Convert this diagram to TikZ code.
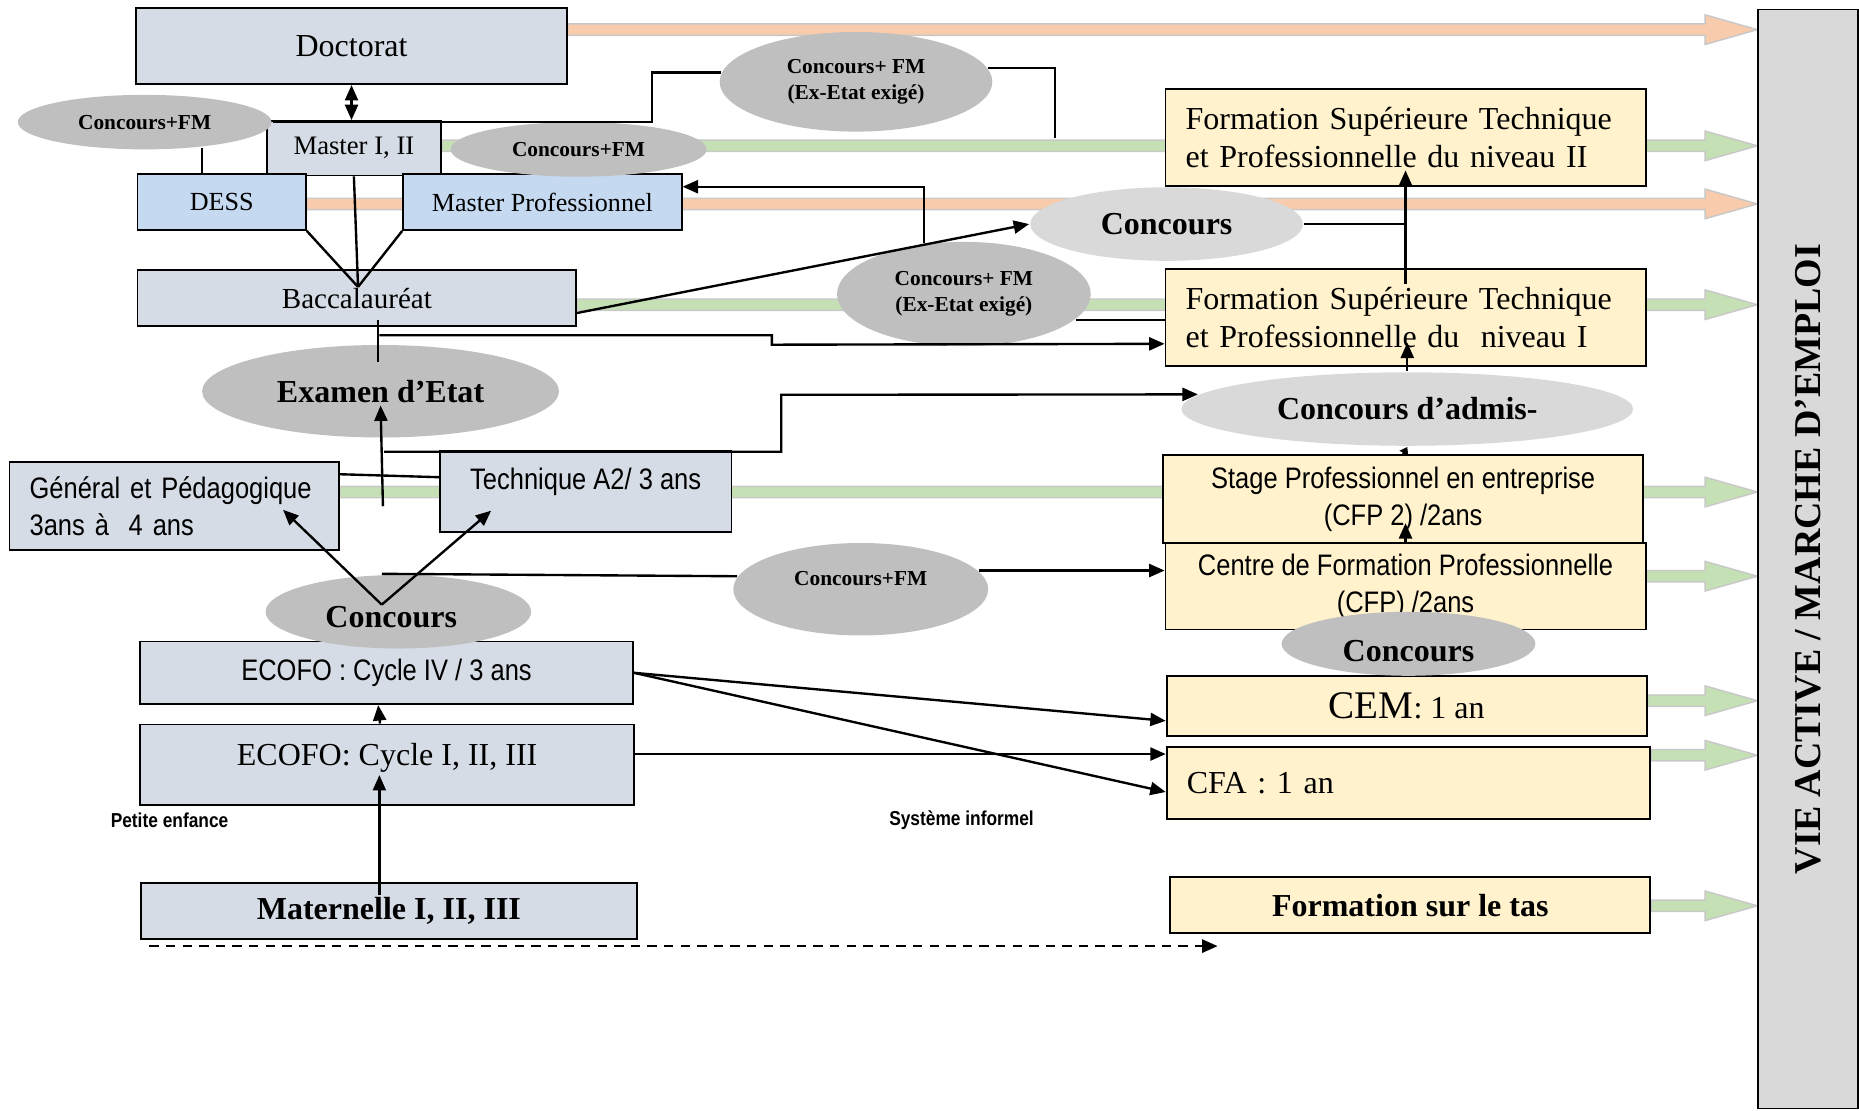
\documentclass[tikz,border=0pt]{standalone}
\usepackage{fontspec}
\setmainfont{Liberation Serif}
\newfontfamily\narrowsf[FakeStretch=0.86]{Liberation Sans}
\usepackage{tikz}
\usetikzlibrary{shapes.geometric,arrows.meta,calc,backgrounds}
\tikzset{every picture/.style={line width=2pt}}

\definecolor{boxgray}{RGB}{214,220,229}
\definecolor{boxblue}{RGB}{197,217,241}
\definecolor{boxcream}{RGB}{255,242,204}
\definecolor{ellgray}{RGB}{191,191,191}
\definecolor{elllight}{RGB}{217,217,217}
\definecolor{viegray}{RGB}{217,217,217}
\definecolor{fatorange}{RGB}{248,203,173}
\definecolor{fatgreen}{RGB}{197,224,180}
\definecolor{fatedge}{RGB}{200,200,200}

\tikzset{
  lbox/.style={draw, line width=1.5pt, fill=boxgray, inner sep=0pt, align=center},
  bbox/.style={lbox, fill=boxblue},
  rbox/.style={lbox, fill=boxcream},
  dell/.style={ellipse, fill=ellgray, inner sep=0pt, align=center, font=\fontsize{27}{32}\selectfont\bfseries},
  lell/.style={dell, fill=elllight},
  smell/.style={dell, font=\fontsize{18}{22}\selectfont\bfseries},
  serif27/.style={font=\fontsize{27}{32}\selectfont},
  sans25/.style={font=\narrowsf\fontsize{25}{31}\selectfont},
}

% wide arrow from a box (#1) at height #2 to the right column, colour #3
\newcommand\fatarrow[3]{%
  \draw[draw=fatedge, fill=#3, line width=1.2pt]
    ($(#1 |- 0,#2)+(0,-4.8)$) -- ($(vie.west |- 0,#2)+(-44,-4.8)$) -- ($(vie.west |- 0,#2)+(-44,-12.5)$)
    -- (vie.west |- 0,#2) -- ($(vie.west |- 0,#2)+(-44,12.5)$) -- ($(vie.west |- 0,#2)+(-44,4.8)$)
    -- ($(#1 |- 0,#2)+(0,4.8)$) -- cycle;}

\begin{document}
\begin{tikzpicture}[x=1pt,y=1pt,yscale=-1,xscale=1,>={Triangle[length=13pt,width=11pt]}]
		\useasboundingbox (0,0) rectangle (1568,936.3);
		
		%Boxes left
		\node[lbox, serif27, minimum width=363pt, minimum height=64pt] (doc) at (296.5,39) {Doctorat};
		\node[lbox, font=\fontsize{22.5}{26}\selectfont, minimum width=147pt, minimum height=46pt] (m12) at (298.5,125) {Master I, II};
		\node[bbox, font=\fontsize{22}{26}\selectfont, minimum width=142pt, minimum height=47pt] (dess) at (187,170.5) {DESS};
		\node[bbox, font=\fontsize{22}{26}\selectfont, minimum width=235pt, minimum height=47pt] (mpro) at (457.5,170.5) {Master Professionnel};
		\node[lbox, font=\fontsize{24.5}{28}\selectfont, minimum width=370pt, minimum height=47pt] (bac) at (301,251.5) {Baccalauréat};
		\node[lbox, sans25, align=left, text width=244pt, inner xsep=17pt, minimum height=74pt] (gen) at (147,427) {Général et Pédagogique\\3ans à~~4 ans};
		\node[lbox, sans25, text depth=22pt, minimum width=246pt, minimum height=69pt] (tech) at (494,414.5) {Technique A2/ 3 ans};
		\node[lbox, sans25, minimum width=416pt, minimum height=53pt] (e4) at (326,567.5) {ECOFO : Cycle IV / 3 ans};
		\node[lbox, serif27, text depth=18pt, minimum width=417pt, minimum height=68pt] (e1) at (326.5,645) {ECOFO: Cycle I, II, III};
		\node[lbox, font=\fontsize{27}{32}\selectfont\bfseries, minimum width=418pt, minimum height=47pt] (mat) at (328,768.5) {Maternelle I, II, III};
		
		%Boxes right
		\node[rbox, serif27, align=left, text width=371pt, inner xsep=17pt, minimum height=82pt] (fst2) at (1185.5,116) {Formation Supérieure Technique\\et Professionnelle du niveau II};
		\node[rbox, serif27, align=left, text width=371pt, inner xsep=17pt, minimum height=82pt] (fst1) at (1185.5,268) {Formation Supérieure Technique\\et Professionnelle du~~niveau I};
		\node[rbox, sans25, minimum width=405pt, minimum height=74pt] (stage) at (1183.5,421) {Stage Professionnel en entreprise\\(CFP 2) /2ans};
		\node[rbox, sans25, minimum width=405pt, minimum height=73pt] (cfp) at (1185.5,494.5) {Centre de Formation Professionnelle\\(CFP) /2ans};
		\node[rbox, serif27, minimum width=405pt, minimum height=51pt] (cem) at (1186.5,595.5) {{\fontsize{33}{36}\selectfont CEM}: 1 an};
		\node[rbox, serif27, align=left, text width=374pt, inner xsep=17pt, minimum height=61pt] (cfa) at (1188,660.5) {CFA : 1 an};
		\node[rbox, font=\fontsize{27}{32}\selectfont\bfseries, minimum width=405pt, minimum height=47pt] (tas) at (1189.5,763.5) {Formation sur le tas};
		\node[draw, line width=1.5pt, fill=viegray, inner sep=0pt, minimum width=84pt, minimum height=927pt] (vie) at (1525,471.5)
		  {\rotatebox{90}{\fontsize{32}{36}\selectfont\bfseries VIE ACTIVE / MARCHE D’EMPLOI}};
		
		%Ellipses
		\node[smell, minimum width=214pt, minimum height=46pt] (cfm1) at (122,103) {Concours+FM};
		\node[smell, minimum width=230pt, minimum height=84pt] (cfmx1) at (722,69) {Concours+ FM\\(Ex-Etat exigé)};
		\node[smell, minimum width=216pt, minimum height=46pt] (cfm2) at (488,126) {Concours+FM};
		\node[lell, minimum width=230pt, minimum height=62pt] (conc1) at (984,189) {Concours};
		\node[smell, minimum width=214pt, minimum height=88pt] (cfmx2) at (813,248) {Concours+ FM\\(Ex-Etat exigé)};
		\node[dell, minimum width=301pt, minimum height=78pt] (exam) at (321,330) {Examen d’Etat};
		\node[lell, minimum width=381pt, minimum height=62pt] (cadm) at (1187,345) {Concours d’admis-};
		\node[dell, text height=27pt, minimum width=224pt, minimum height=62pt] (conc2) at (336,516) {Concours\hspace*{12pt}};
		\node[smell, text depth=18pt, minimum width=215pt, minimum height=78pt] (cfm3) at (726,497) {Concours+FM};
		\node[dell, text height=30pt, minimum width=214pt, minimum height=54pt] (conc3) at (1188,543) {Concours};
		
		% Text Node
		\node[font=\narrowsf\bfseries\fontsize{17}{20}\selectfont] (pe) at (143,692) {Petite enfance};
		% Text Node
		\node[font=\narrowsf\bfseries\fontsize{17}{20}\selectfont] (si) at (811,692) {Système informel};
		
		%Wide arrows
		\begin{scope}[on background layer]
		\fatarrow{doc.east}{25}{fatorange}
		\fatarrow{m12.east}{123}{fatgreen}
		\fatarrow{dess.east}{172}{fatorange}
		\fatarrow{bac.east}{257}{fatgreen}
		\fatarrow{gen.east}{415}{fatgreen}
		\fatarrow{cfp.east}{486}{fatgreen}
		\fatarrow{cem.east}{591}{fatgreen}
		\fatarrow{cfa.east}{637}{fatgreen}
		\fatarrow{tas.east}{764}{fatgreen}
		\end{scope}
		
		\coordinate (bacin) at (302,242);
		\coordinate (gtop) at (324,381);
		\coordinate (gbot) at (323,427);
		\coordinate (capex) at (322,510);
		\coordinate (dash0) at (126,798);
		
		%Straight Lines
		\draw[<->] (doc.south) -- (doc.south |- m12.north);
		\draw (cfm1.east) -- ++(320,0) |- (cfmx1.176);
		\draw (cfm1.-24) -- (cfm1.-24 |- dess.north);
		\draw (cfmx1.6) -- ++(56,0) -- ++(0,59);
		\draw (m12.south) -- (bacin);
		\draw (dess.south east) -- (bacin);
		\draw (mpro.south west) -- (bacin);
		\draw[->] (bac.east |- 0,264) -- (conc1.west);
		\draw (conc1.east) -- (conc1.east -| fst2.south);
		\draw[->] ($(fst1.north)+(0,13)$) -- ($(fst2.south)+(0,-14)$);
		\draw[->] (cfmx2.128) |- ($(mpro.east)+(0,-13)$);
		\draw (cfmx2.-13) -- (cfmx2.-13 -| fst1.west);
		\draw ($(bac.south)+(18,-6)$) -- ++(0,36);
		\draw[->] ($(bac.south)+(19,7)$) -| ++(331,8) -- ($(fst1.west)+(0,22)$);
		\draw[->] (gbot) -- ($(exam.center)+(0,12)$);
		\draw[->] (gtop) -| ++(335,-48) -- (cadm.176);
		\draw ($(gen.east)+(0,-27)$) -- ($(tech.west)+(0,-12)$);
		\draw[->] (capex) -- ($(gen.east)+(-48,3)$);
		\draw[->] (capex) -- ($(tech.south west)+(44,-19)$);
		\draw (capex |- conc2.north) -- (cfm3.174);
		\draw[->] (cfm3.9) -- (cfm3.9 -| cfp.west);
		\draw[->] (cfp.north) -- ++(0,-16);
		\draw[-{Triangle[length=6pt,width=8pt]}] (stage.north) -- (cadm.south);
		\draw[->] (cadm.north) -- ++(0,-24);
		\draw[->] ($(e1.north)+(-6,0)$) -- ($(e4.south)+(-7,0)$);
		\draw[->] ($(mat.north)+(-8,11)$) -- ($(e1.south)+(-6.5,-26)$);
		\draw[->] (e4.east) -- ($(cem.west)+(0,12.5)$);
		\draw[->] (e4.east) -- ($(cfa.west)+(0,7.5)$);
		\draw[->] ($(e1.east)+(0,-9)$) -- ($(cfa.west)+(0,-24.5)$);
		\draw[->, dash pattern=on 8pt off 6pt] (dash0) -- ++(901,0);
		
\end{tikzpicture}
\end{document}
